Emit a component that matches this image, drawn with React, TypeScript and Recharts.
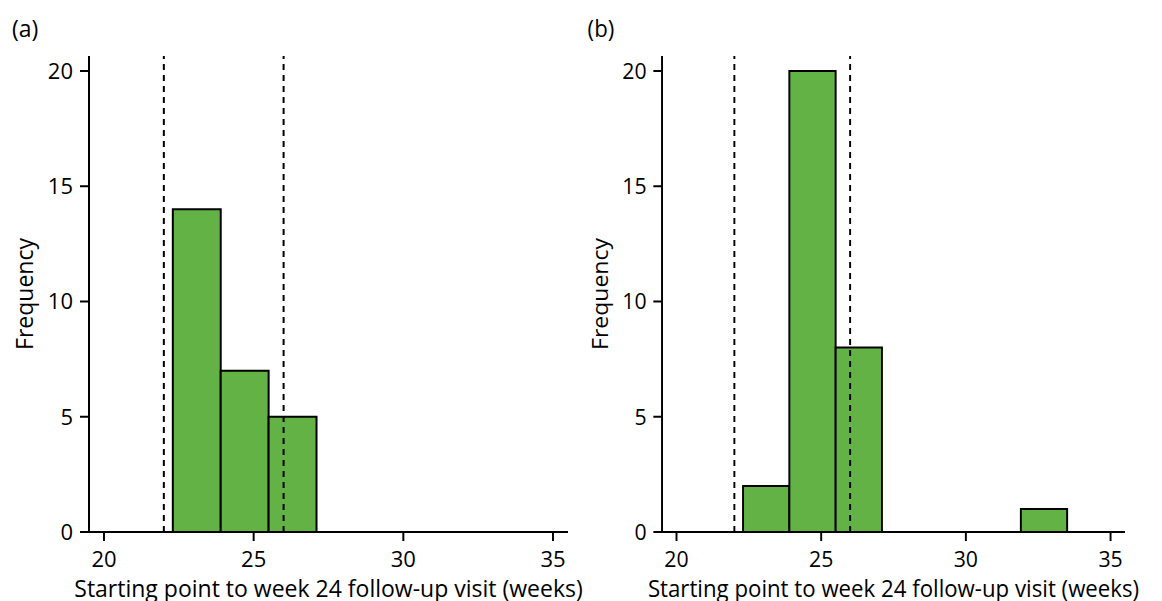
import React from 'react';
import { ComposedChart, XAxis, YAxis, ReferenceArea, ReferenceLine } from 'recharts';

// histogram bins (weeks), width 1.6
const binWidth = 1.6;
const binStartsA = [22.3, 23.9, 25.5];
const countsA = [14, 7, 5];
const binStartsB = [22.3, 23.9, 25.5, 31.9];
const countsB = [2, 20, 8, 1];

// visit window limits
const cutoffs = [22, 26];

const xTicks = [20, 25, 30, 35];
const yTicks = [0, 5, 10, 15, 20];

const FONT = '"Open Sans", sans-serif';
const GREEN = '#63b246';

interface Bin {
  lo: number;
  hi: number;
  count: number;
}

const makeBins = (starts: number[], counts: number[]): Bin[] =>
  starts.map((s, i) => ({ lo: s, hi: +(s + binWidth).toFixed(2), count: counts[i] }));

const FreqLabel = (props: any) => {
  const { viewBox } = props;
  const cx = 24;
  const cy = viewBox.y + viewBox.height / 2;
  return (
    <text
      x={cx}
      y={cy}
      transform={`rotate(-90 ${cx} ${cy})`}
      textAnchor="middle"
      dominantBaseline="central"
      fontSize={23}
      fontFamily={FONT}
      fill="#000"
    >
      Frequency
    </text>
  );
};

const Panel: React.FC<{ bins: Bin[]; tag: string }> = ({ bins, tag }) => (
  <div style={{ position: 'relative', width: 600, height: 601 }}>
    <ComposedChart
      width={600}
      height={601}
      data={bins}
      margin={{ top: 56, right: 32, bottom: 4, left: 29 }}
    >
      <XAxis
        type="number"
        dataKey="lo"
        domain={[19.5, 35.5]}
        ticks={xTicks}
        allowDataOverflow
        height={65}
        axisLine={{ stroke: '#000', strokeWidth: 2 }}
        tickLine={{ stroke: '#000', strokeWidth: 2 }}
        tickSize={9}
        tickMargin={10}
        tick={{ fill: '#000', fontSize: 22, fontFamily: FONT }}
        label={{
          value: 'Starting point to week 24 follow-up visit (weeks)',
          position: 'insideBottom',
          offset: 0,
          fill: '#000',
          fontSize: 23,
          fontFamily: FONT,
        }}
      />
      <YAxis
        type="number"
        dataKey="count"
        domain={[0, 20.65]}
        ticks={yTicks}
        allowDataOverflow
        width={60}
        axisLine={{ stroke: '#000', strokeWidth: 2 }}
        tickLine={{ stroke: '#000', strokeWidth: 2 }}
        tickSize={9}
        tickMargin={7}
        tick={{ fill: '#000', fontSize: 22, fontFamily: FONT }}
        label={{ content: FreqLabel }}
      />
      {bins.map((b, i) => (
        <ReferenceArea
          key={i}
          x1={b.lo}
          x2={b.hi}
          y1={0}
          y2={b.count}
          fill={GREEN}
          fillOpacity={1}
          stroke="#000"
          strokeWidth={2}
        />
      ))}
      {cutoffs.map((c) => (
        <ReferenceLine
          key={c}
          x={c}
          stroke="#000"
          strokeWidth={2}
          strokeDasharray="6 5"
        />
      ))}
    </ComposedChart>
    <svg
      width={60}
      height={50}
      style={{ position: 'absolute', left: 0, top: 0 }}
    >
      <text x={12} y={37} fontSize={23} fontFamily={FONT} fill="#000">
        {tag}
      </text>
    </svg>
  </div>
);

export default function App() {
  const binsA = makeBins(binStartsA, countsA);
  const binsB = makeBins(binStartsB, countsB);
  return (
    <div
      style={{
        position: 'absolute',
        left: 0,
        top: 0,
        width: 1162,
        height: 601,
        background: '#fff',
        overflow: 'hidden',
      }}
    >
      <div style={{ position: 'absolute', left: 0, top: 0 }}>
        <Panel bins={binsA} tag="(a)" />
      </div>
      <div
        style={{
          position: 'absolute',
          left: 576,
          top: 0,
          transform: 'scaleX(0.9666)',
          transformOrigin: 'left top',
        }}
      >
        <Panel bins={binsB} tag="(b)" />
      </div>
    </div>
  );
}
